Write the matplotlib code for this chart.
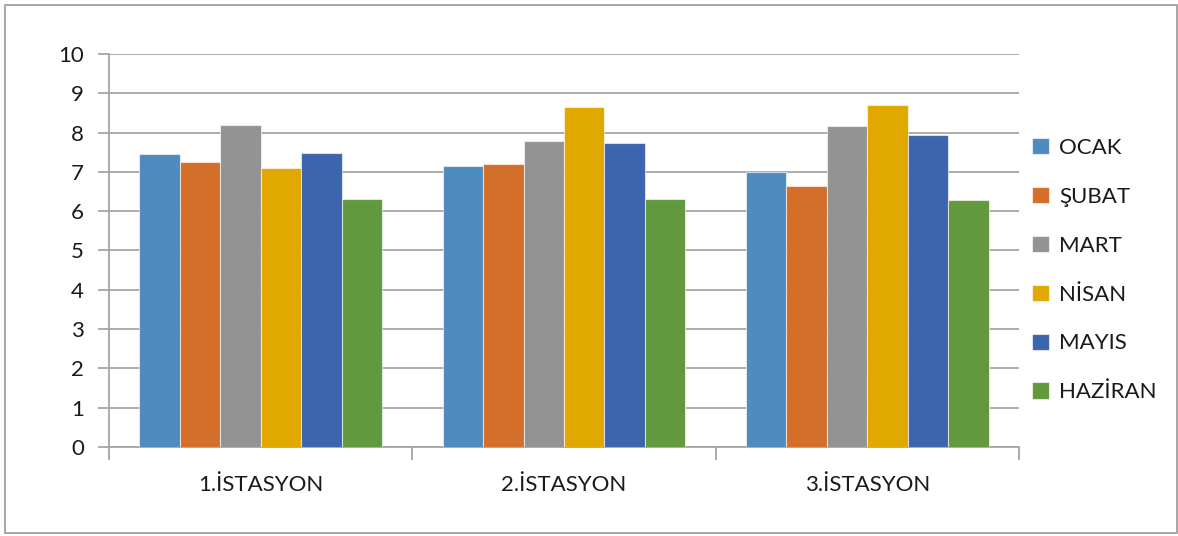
import matplotlib
matplotlib.use("Agg")
import matplotlib.pyplot as plt
from matplotlib.patches import Rectangle
import numpy as np

plt.rcParams['font.family'] = ['Lato', 'DejaVu Sans']

stations = ["1.İSTASYON", "2.İSTASYON", "3.İSTASYON"]
months = ["OCAK", "ŞUBAT", "MART", "NİSAN", "MAYIS", "HAZİRAN"]
colors = ["#4F8BBE", "#D36F2B", "#939393", "#E1A800", "#3C65AD", "#62993E"]

ocak = [7.45, 7.14, 7.01]
subat = [7.24, 7.19, 6.63]
mart = [8.20, 7.79, 8.18]
nisan = [7.09, 8.64, 8.71]
mayis = [7.49, 7.74, 7.93]
haziran = [6.30, 6.31, 6.28]
series = [ocak, subat, mart, nisan, mayis, haziran]

y_ticks = list(range(0, 11))

fig = plt.figure(figsize=(11.78, 5.36), dpi=100)
ax = fig.add_axes([109 / 1178, 1 - 447 / 536, (1019 - 109) / 1178, (447 - 54) / 536])

n = len(months)
group_w = 0.8
bar_w = group_w / n
x = np.arange(len(stations))
for i, (name, vals, c) in enumerate(zip(months, series, colors)):
    offs = -group_w / 2 + bar_w * (i + 0.5)
    ax.bar(x + offs, vals, width=bar_w, color=c, edgecolor=(1, 1, 1, 0.6),
           linewidth=0.8, label=name, zorder=3)

fs = 16
ax.set_xlim(-0.5, len(stations) - 0.5)
ax.set_ylim(0, 10)
ax.set_yticks(y_ticks)
ax.set_yticklabels([str(t) for t in y_ticks], fontsize=fs, color="#1a1a1a")
ax.yaxis.grid(True, color="#a6a6a6", linewidth=1.3, zorder=0)
ax.set_axisbelow(True)

ax.set_xticks(x)
ax.set_xticklabels(stations, fontsize=fs, color="#1a1a1a")
ax.tick_params(axis="x", length=0, pad=20)
ax.set_xticks(np.arange(-0.5, len(stations)), minor=True)
ax.tick_params(axis="x", which="minor", length=9, width=1.3, color="#a6a6a6")
ax.tick_params(axis="y", length=8, width=1.3, color="#a6a6a6", pad=10)

for side in ["top", "right"]:
    ax.spines[side].set_visible(False)
for side in ["left", "bottom"]:
    ax.spines[side].set_color("#a6a6a6")
    ax.spines[side].set_linewidth(1.3)

leg = ax.legend(loc="center left", bbox_to_anchor=(1.0, 0.45), frameon=False,
                fontsize=fs, handlelength=0.75, handleheight=0.75,
                labelspacing=1.3, handletextpad=0.45, borderaxespad=0.2)
for t in leg.get_texts():
    t.set_color("#1a1a1a")

fig.patches.append(Rectangle((5 / 1178, 3 / 536), 1172 / 1178, 528 / 536,
                             transform=fig.transFigure, fill=False,
                             edgecolor="#a0a0a0", linewidth=1.3))

fig.savefig("out.png", dpi=100, facecolor="white")
